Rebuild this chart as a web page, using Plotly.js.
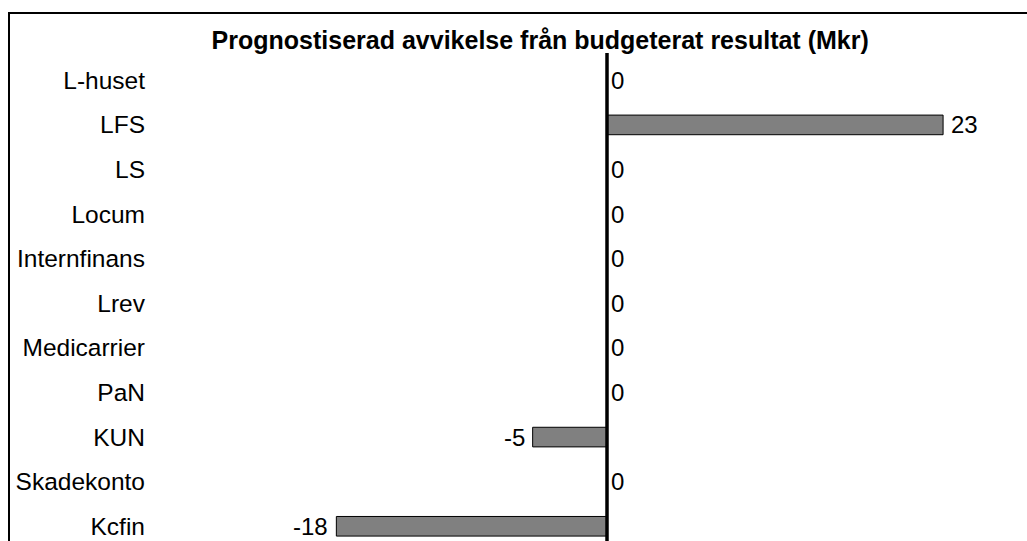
<!DOCTYPE html>
<html>
<head>
<meta charset="utf-8">
<script src="https://cdn.plot.ly/plotly-3.0.1.min.js"></script>
<style>
  html, body { margin: 0; padding: 0; background: #fff; overflow: hidden; }
  #wrap { position: relative; width: 1027px; height: 541px; }
  #chart { position: absolute; left: 0; top: 0; width: 1027px; height: 541px; }
  #frame { position: absolute; left: 8px; top: 12px; right: -10px; bottom: -10px;
           border-top: 2px solid #000; border-left: 2px solid #000; pointer-events: none; }
</style>
</head>
<body>
<div id="wrap">
  <div id="chart"></div>
  <div id="frame"></div>
</div>
<script>
const chartTitle = "Prognostiserad avvikelse från budgeterat resultat (Mkr)";
const categories = ["L-huset", "LFS", "LS", "Locum", "Internfinans", "Lrev", "Medicarrier", "PaN", "KUN", "Skadekonto", "Kcfin"];
const values = [0, 22.6, 0, 0, 0, 0, 0, 0, -5.0, 0, -18.2];
const valueLabels = values.map(v => String(Math.round(v)));

const FONT = "Liberation Sans, Arial, sans-serif";

const trace = {
  type: "bar",
  orientation: "h",
  y: categories,
  x: values,
  width: 0.44,
  marker: { color: "#808080", line: { color: "#000", width: 1 } },
  hoverinfo: "skip"
};

const annotations = values.map((v, i) => ({
  x: v, y: categories[i], xref: "x", yref: "y",
  text: valueLabels[i],
  showarrow: false,
  xanchor: v < 0 ? "right" : "left",
  yanchor: "middle",
  xshift: v < 0 ? -6 : (v === 0 ? 2 : 6),
  font: { family: FONT, size: 24, color: "#000" }
}));

const layout = {
  width: 1027, height: 541,
  margin: { l: 146, r: 10, t: 58, b: 0, pad: 0 },
  paper_bgcolor: "#fff", plot_bgcolor: "#fff",
  showlegend: false,
  title: {
    text: "<b>" + chartTitle + "</b>",
    xref: "container", x: 0.526, xanchor: "center",
    yref: "container", y: 1 - 40 / 541, yanchor: "middle",
    font: { family: FONT, size: 25, color: "#000" }
  },
  xaxis: {
    range: [-31.0, 27.57],
    showgrid: false, zeroline: false, showline: false,
    showticklabels: false, ticks: ""
  },
  yaxis: {
    type: "category",
    range: [10.33, -0.5],
    showgrid: false, zeroline: false, showline: false,
    ticks: "",
    tickfont: { family: FONT, size: 24.5, color: "#000" }
  },
  shapes: [{
    type: "line", xref: "x", yref: "paper",
    x0: 0, x1: 0, y0: -0.05, y1: 1.0104,
    line: { color: "#000", width: 3.5 }
  }],
  annotations: annotations
};

Plotly.newPlot("chart", [trace], layout, { staticPlot: true, displayModeBar: false });
</script>
</body>
</html>
